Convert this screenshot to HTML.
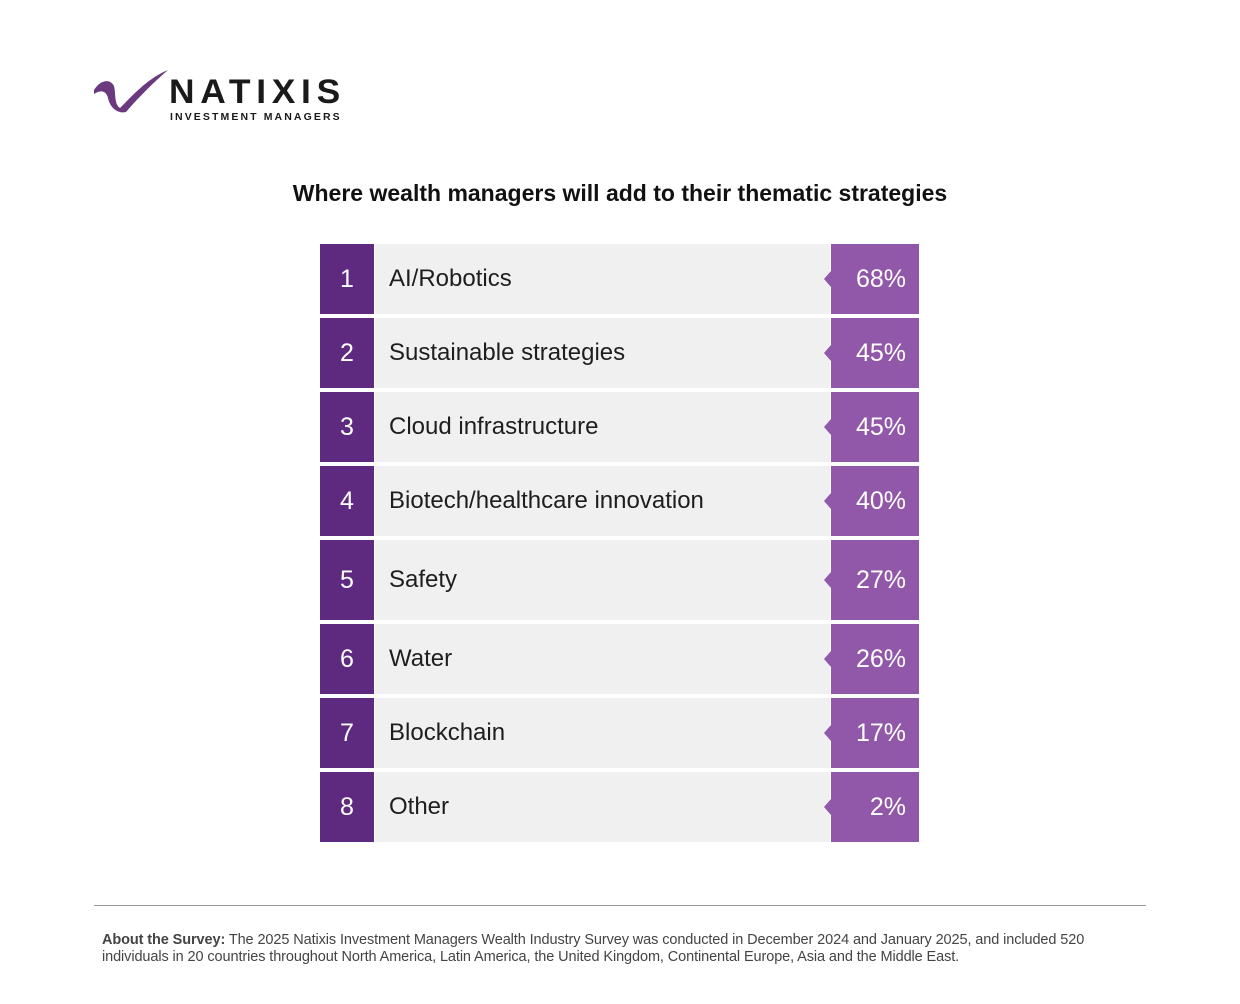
<!DOCTYPE html>
<html><head><style>
body{margin:0;width:1240px;height:1004px;background:#fff;font-family:"Liberation Sans",sans-serif;position:relative;overflow:hidden}
.a{position:absolute}
.row{position:absolute;left:320px;width:599px}
.num{position:absolute;left:0;top:0;bottom:0;width:54px;background:#5e2a80;color:#fff;font-size:25px;display:flex;align-items:center;justify-content:center}
.lab{position:absolute;left:55px;top:0;bottom:0;width:455px;background:#f0f0f0;color:#1e1e1e;font-size:24px;display:flex;align-items:center;padding-left:14px;box-sizing:border-box}
.pct{position:absolute;left:511px;top:0;bottom:0;width:88px;background:#9157a8;color:#fff;font-size:25px;display:flex;align-items:center;justify-content:flex-end;padding-right:13px;box-sizing:border-box}
.pct:before{content:"";position:absolute;left:-7px;top:50%;margin-top:-8px;border-right:7px solid #9157a8;border-top:8px solid transparent;border-bottom:8px solid transparent}
</style></head><body>
<svg class="a" style="left:92px;top:68px" width="78" height="46" viewBox="0 0 78 46">
<path d="M2 22 C8 12,18 10,22 18 C24 26,22 36,28 40 C40 28,56 10,76 2 C62 14,46 30,34 44 C26 46,18 40,16 30 C14 22,8 22,2 26 Z" fill="#6b3a7e"/>
</svg>
<div class="a" style="left:169px;top:73px;font-size:34px;font-weight:bold;letter-spacing:5.5px;color:#1a1a1a;transform:scaleX(1.04);transform-origin:left">NATIXIS</div>
<div class="a" style="left:170px;top:111px;font-size:10.5px;font-weight:bold;letter-spacing:2.1px;color:#1a1a1a">INVESTMENT MANAGERS</div>
<div class="a" style="left:0;width:1240px;top:180px;text-align:center;font-size:23px;font-weight:bold;color:#111">Where wealth managers will add to their thematic strategies</div>

<div class="row" style="top:244px;height:70px"><div class="num">1</div><div class="lab">AI/Robotics</div><div class="pct">68%</div></div>
<div class="row" style="top:318px;height:70px"><div class="num">2</div><div class="lab">Sustainable strategies</div><div class="pct">45%</div></div>
<div class="row" style="top:392px;height:70px"><div class="num">3</div><div class="lab">Cloud infrastructure</div><div class="pct">45%</div></div>
<div class="row" style="top:466px;height:70px"><div class="num">4</div><div class="lab">Biotech/healthcare innovation</div><div class="pct">40%</div></div>
<div class="row" style="top:540px;height:80px"><div class="num">5</div><div class="lab">Safety</div><div class="pct">27%</div></div>
<div class="row" style="top:624px;height:70px"><div class="num">6</div><div class="lab">Water</div><div class="pct">26%</div></div>
<div class="row" style="top:698px;height:70px"><div class="num">7</div><div class="lab">Blockchain</div><div class="pct">17%</div></div>
<div class="row" style="top:772px;height:70px"><div class="num">8</div><div class="lab">Other</div><div class="pct">2%</div></div>

<div class="a" style="left:94px;top:905px;width:1052px;height:1px;background:#999"></div>
<div class="a" style="left:102px;top:932px;width:1020px;font-size:14.5px;line-height:17px;color:#444;letter-spacing:-0.1px"><b>About the Survey:</b> The 2025 Natixis Investment Managers Wealth Industry Survey was conducted in December 2024 and January 2025, and included 520 individuals in 20 countries throughout North America, Latin America, the United Kingdom, Continental Europe, Asia and the Middle East.</div>
</body></html>
